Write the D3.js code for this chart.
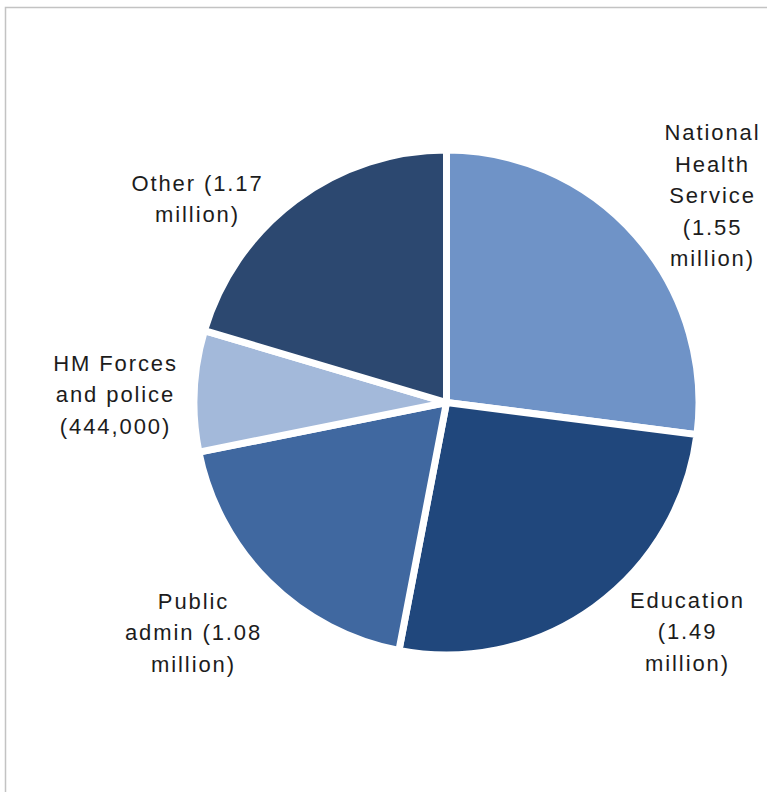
<!DOCTYPE html>
<html>
<head>
<meta charset="utf-8">
<script src="https://cdn.jsdelivr.net/npm/d3@7"></script>
<style>
  html, body { margin: 0; padding: 0; background: #fff; }
  svg { display: block; }
</style>
</head>
<body>
<svg id="chart" width="767" height="792"></svg>
<script>
// ---- Data ----
const categories = ["National Health Service", "Education", "Public admin", "HM Forces and police", "Other"];
const values = [1.55, 1.49, 1.08, 0.444, 1.17]; // millions of employees
const labelLines = [
  ["National", "Health", "Service", "(1.55", "million)"],
  ["Education", "(1.49", "million)"],
  ["Public", "admin (1.08", "million)"],
  ["HM Forces", "and police", "(444,000)"],
  ["Other (1.17", "million)"]
];
const colors = ["#6f93c7", "#20477c", "#4068a0", "#a3b9da", "#2c4870"];

// ---- Layout (styles/positions) ----
const W = 767, H = 792;
const cx = 446.5, cy = 402.5;
const outerR = 252.5;
const gap = 7;
// label centre positions relative to pie centre: [dx, dy]
const labelOffsets = [[266, -207], [241, 229], [-253, 230], [-331, -8], [-249, -204]];
const lineH = 31.5;

const svg = d3.select("#chart");

// border of the chart area
svg.append("path")
  .attr("d", `M5.5,${H + 5} L5.5,7.5 L${W + 5},7.5`)
  .attr("fill", "none")
  .attr("stroke", "#c3c3c3")
  .attr("stroke-width", 1.5);

const pie = d3.pie().sort(null).value(d => d)
  .startAngle(0).endAngle(2 * Math.PI);
const arcs = pie(values);
const arc = d3.arc().innerRadius(0).outerRadius(outerR);

const g = svg.append("g").attr("transform", `translate(${cx},${cy})`);

g.selectAll("path.slice")
  .data(arcs)
  .enter().append("path")
  .attr("class", "slice")
  .attr("d", arc)
  .attr("fill", (d, i) => colors[i])
  .attr("stroke", "#fff")
  .attr("stroke-width", gap)
  .attr("stroke-linejoin", "round");

g.selectAll("text.lbl")
  .data(arcs)
  .enter().append("text")
  .attr("class", "lbl")
  .attr("text-anchor", "middle")
  .attr("font-family", "'Liberation Sans', Arial, sans-serif")
  .attr("font-size", 22)
  .attr("letter-spacing", 1.9)
  .attr("fill", "#1c1c1c")
  .each(function(d, i) {
    const lines = labelLines[i];
    const [ox, oy] = labelOffsets[i];
    const top = oy - (lines.length - 1) * lineH / 2;
    d3.select(this).selectAll("tspan")
      .data(lines)
      .enter().append("tspan")
      .attr("x", ox)
      .attr("y", (t, j) => top + j * lineH + 7.9)
      .text(t => t);
  });
</script>
</body>
</html>
